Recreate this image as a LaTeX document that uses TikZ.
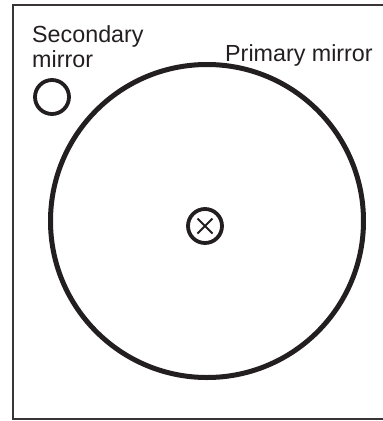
\documentclass[tikz,border=0pt]{standalone}
\usepackage{fontspec}
\setmainfont{Liberation Sans}
\usetikzlibrary{positioning,calc}
\definecolor{ink}{HTML}{231F20}
\tikzset{
  mirror/.style={circle,draw=ink,line width=5bp,inner sep=0pt},
  smallmirror/.style={circle,draw=ink,line width=3.8bp,inner sep=0pt,minimum size=34bp},
  lbl/.style={inner sep=0pt,font=\fontsize{23.3bp}{24.7bp}\selectfont,text=ink,align=left},
  frame/.style={draw=ink!90!white,line width=2bp},
}
\begin{document}
\begin{tikzpicture}[x=1bp,y=-1bp]
  \useasboundingbox (0,0) rectangle (383,421);
  \begin{scope}
    \clip (0,0) rectangle (383,421);
    \draw[frame] (13,5) rectangle (400,419);
  \end{scope}
  \node[mirror,minimum size=313bp] (primary) at (207,221) {};
  \node[smallmirror] (secondary) at (52,97) {};
  \node[smallmirror] (obs) at (205,226) {};
  \draw[ink,line width=2bp] ($(obs)+(-7.5,-7.5)$) -- ($(obs)+(7.5,7.5)$);
  \draw[ink,line width=2bp] ($(obs)+(-7.5,7.5)$) -- ($(obs)+(7.5,-7.5)$);
  \node[lbl,anchor=base west] (seclbl) at (32,67) {Secondary\\mirror};
  \node[lbl,anchor=base west] (prilbl) at (225,61.7) {Primary mirror};
\end{tikzpicture}
\end{document}
